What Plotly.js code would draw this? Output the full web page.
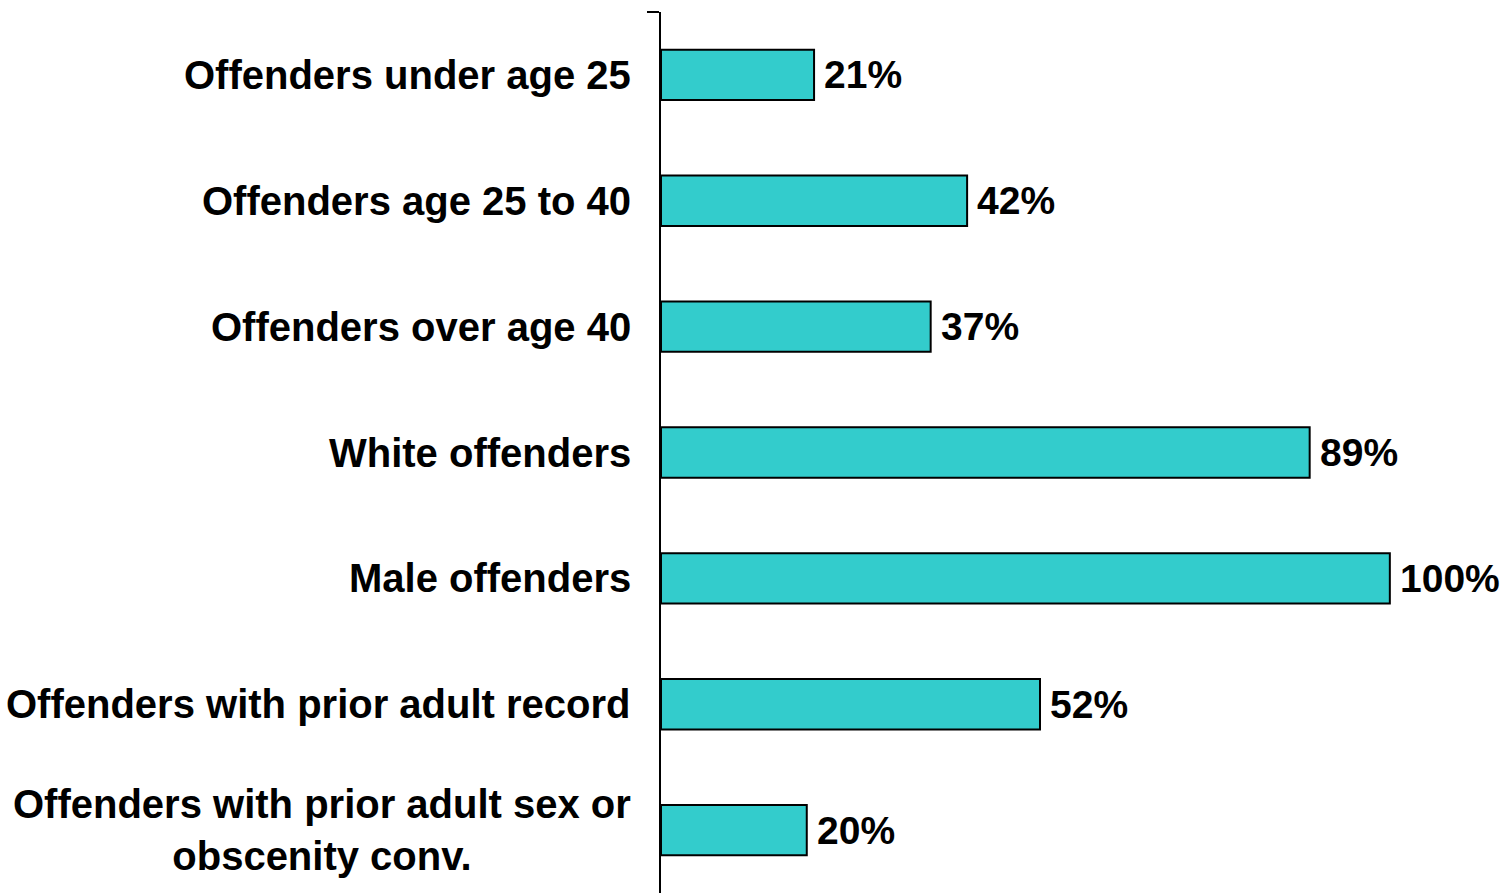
<!DOCTYPE html>
<html>
<head>
<meta charset="utf-8">
<script src="https://cdn.plot.ly/plotly-3.0.1.min.js"></script>
<style>
  html, body { margin: 0; padding: 0; background: #fff; }
  #chart { width: 1505px; height: 893px; }
</style>
</head>
<body>
<div id="chart"></div>
<script>
const categories = [
  "Offenders under age 25",
  "Offenders age 25 to 40",
  "Offenders over age 40",
  "White offenders",
  "Male offenders",
  "Offenders with prior adult record",
  "Offenders with prior adult sex or<br>obscenity conv."
];
const values = [21, 42, 37, 89, 100, 52, 20];
const valueLabels = ["21%", "42%", "37%", "89%", "100%", "52%", "20%"];

const positions = categories.map((_, i) => i);
const catFont = { family: "Liberation Sans, Arial, sans-serif", size: 40, color: "#000" };
const valFont = { family: "Liberation Sans, Arial, sans-serif", size: 39, color: "#000" };

const traces = [
  {
    type: "bar",
    orientation: "h",
    x: values,
    y: positions,
    width: 0.4,
    marker: { color: "#33CCCC", line: { color: "#000", width: 2 } },
    hoverinfo: "skip",
  },
];

// category names left of the axis, percentages right of each bar
const annotations = [];
categories.forEach((c, i) => {
  annotations.push({
    xref: "paper", yref: "y",
    x: 0, y: i,
    xanchor: "right", yanchor: "middle",
    xshift: -28,
    text: "<b>" + c + "</b>",
    align: "center",
    showarrow: false,
    font: catFont,
  });
  annotations.push({
    xref: "x", yref: "y",
    x: values[i], y: i,
    xanchor: "left", yanchor: "middle",
    xshift: 8,
    text: "<b>" + valueLabels[i] + "</b>",
    showarrow: false,
    font: valFont,
  });
});

Plotly.newPlot("chart", traces, {
  width: 1505,
  height: 893,
  margin: { l: 661, r: 0, t: 12, b: 0 },
  paper_bgcolor: "#fff",
  plot_bgcolor: "#fff",
  showlegend: false,
  xaxis: { visible: false, range: [0, 115.8] },
  yaxis: {
    range: [6.5, -0.5],
    showgrid: false,
    zeroline: false,
    showline: true,
    linecolor: "#000",
    linewidth: 2,
    tickmode: "array",
    tickvals: [-0.5],
    ticks: "outside",
    ticklen: 12,
    tickwidth: 2,
    tickcolor: "#000",
    showticklabels: false,
  },
  annotations: annotations,
}, { displayModeBar: false });
</script>
</body>
</html>
